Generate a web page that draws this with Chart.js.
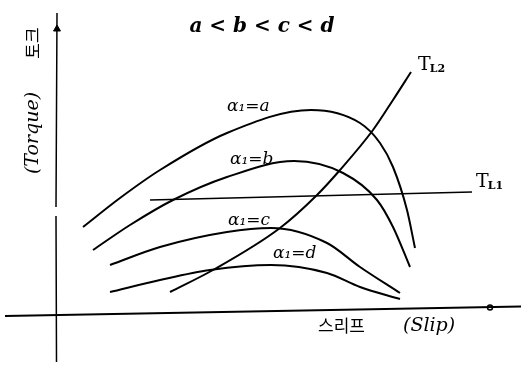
<!DOCTYPE html>
<html>
<head>
<meta charset="utf-8">
<script src="https://cdn.jsdelivr.net/npm/chart.js@4/dist/chart.umd.min.js"></script>
<style>
  html, body { margin: 0; padding: 0; background: #fff; }
  canvas { display: block; }
</style>
</head>
<body>
<canvas id="chart" width="521" height="367"></canvas>
<script>
// slip (x) / torque (y) readings for each alpha1 setting
const slipA = [2.7, 6.4, 10.4, 17.1, 25.5, 30.4, 32.4, 33.7, 35.1, 35.9];
const torqueA = [8.6, 11.5, 14.3, 18.0, 20.3, 19.0, 17.0, 14.6, 10.3, 6.5];

const slipB = [3.7, 7.4, 11.7, 17.1, 23.8, 28.7, 32.1, 33.7, 35.4];
const torqueB = [6.3, 8.8, 11.3, 13.6, 15.2, 14.0, 11.3, 8.6, 4.6];

const slipC = [5.4, 10.4, 17.1, 21.5, 27.1, 30.4, 34.4];
const torqueC = [4.8, 6.6, 8.1, 8.5, 7.0, 4.6, 2.0];

const slipD = [5.4, 10.4, 15.4, 21.5, 27.1, 30.4, 34.4];
const torqueD = [2.1, 3.3, 4.3, 4.8, 4.0, 2.6, 1.4];

// load torque lines
const slipTL1 = [9.4, 41.6];
const torqueTL1 = [11.3, 12.1];

const slipTL2 = [11.4, 15.7, 22.4, 26.1, 28.4, 31.7, 33.7, 35.5];
const torqueTL2 = [2.1, 4.3, 8.5, 11.8, 14.3, 18.3, 21.3, 24.1];

const curveLabels = ['α₁=a', 'α₁=b', 'α₁=c', 'α₁=d'];

function pts(xs, ys) {
    return xs.map((x, i) => ({ x: x, y: ys[i] }));
}

function curve(data) {
    return {
        data: data,
        borderColor: '#000',
        borderWidth: 2,
        pointRadius: 0,
        cubicInterpolationMode: 'monotone',
        fill: false
    };
}

// hand-drawn axes
const axisX = { data: [{ x: -5.1, y: -0.3 }, { x: 46.5, y: 0.65 }], borderColor: '#000', borderWidth: 2, pointRadius: 0 };
const axisY = {
    data: [{ x: 0.1, y: 30.0 }, { x: 0, y: 10.6 }, { x: 0, y: null }, { x: 0, y: 9.7 }, { x: 0.05, y: -4.9 }],
    borderColor: '#000', borderWidth: 1.5, pointRadius: 0, spanGaps: false
};
const arrowHead = { data: [{ x: 0.1, y: 28.4 }], pointStyle: 'triangle', pointRadius: 4, backgroundColor: '#000', borderColor: '#000', showLine: false };
const tickMark = { data: [{ x: 43.4, y: 0.55 }], pointStyle: 'circle', pointRadius: 2.5, backgroundColor: '#fff', borderColor: '#000', borderWidth: 1.5, showLine: false };

// text placed in data units
const notes = [
    { text: 'a < b < c < d', x: 20.6, y: 28.6, font: 'italic bold 20px "DejaVu Serif"', align: 'center' },
    { text: curveLabels[0], x: 17.1, y: 20.6, font: 'italic 17px "DejaVu Serif"' },
    { text: curveLabels[1], x: 17.4, y: 15.3, font: 'italic 17px "DejaVu Serif"' },
    { text: curveLabels[2], x: 17.2, y: 9.2, font: 'italic 17px "DejaVu Serif"' },
    { text: curveLabels[3], x: 21.7, y: 5.9, font: 'italic 17px "DejaVu Serif"' },
    { text: 'T', sub: 'L2', x: 36.2, y: 24.8, font: '19px "DejaVu Serif"' },
    { text: 'T', sub: 'L1', x: 42.0, y: 13.1, font: '19px "DejaVu Serif"' },
    { text: '스리프', x: 26.2, y: -1.3, font: '17px "Noto Sans CJK KR"' },
    { text: '(Slip)', x: 34.7, y: -1.3, font: 'italic 19px "DejaVu Serif"' },
    { text: '토크', x: -2.3, y: 27.0, font: '17px "Noto Sans CJK KR"', rotate: true, align: 'center' },
    { text: '(Torque)', x: -2.3, y: 18.0, font: 'italic 19px "DejaVu Serif"', rotate: true, align: 'center' }
];

const notesPlugin = {
    id: 'notes',
    afterDatasetsDraw(chart) {
        const ctx = chart.ctx;
        const sx = chart.scales.x, sy = chart.scales.y;
        ctx.save();
        ctx.fillStyle = '#000';
        ctx.textBaseline = 'middle';
        notes.forEach(n => {
            const px = sx.getPixelForValue(n.x);
            const py = sy.getPixelForValue(n.y);
            ctx.save();
            ctx.translate(px, py);
            if (n.rotate) ctx.rotate(-Math.PI / 2);
            ctx.font = n.font;
            ctx.textAlign = n.align || 'left';
            ctx.fillText(n.text, 0, 0);
            if (n.sub) {
                const w = ctx.measureText(n.text).width;
                ctx.font = 'bold 11px "DejaVu Serif"';
                ctx.fillText(n.sub, w - 1, 4);
            }
            ctx.restore();
        });
        ctx.restore();
    }
};

new Chart(document.getElementById('chart').getContext('2d'), {
    type: 'line',
    data: {
        datasets: [
            axisX, axisY, arrowHead, tickMark,
            curve(pts(slipA, torqueA)),
            curve(pts(slipB, torqueB)),
            curve(pts(slipC, torqueC)),
            curve(pts(slipD, torqueD)),
            { ...curve(pts(slipTL1, torqueTL1)), borderWidth: 1.5 },
            curve(pts(slipTL2, torqueTL2))
        ]
    },
    options: {
        responsive: false,
        animation: false,
        devicePixelRatio: 1,
        layout: { padding: 0, autoPadding: false },
        plugins: { legend: { display: false }, tooltip: { enabled: false } },
        scales: {
            x: { type: 'linear', min: -5.6, max: 46.5, display: false },
            y: { type: 'linear', min: -5.4, max: 31.3, display: false }
        }
    },
    plugins: [notesPlugin]
});
</script>
</body>
</html>
